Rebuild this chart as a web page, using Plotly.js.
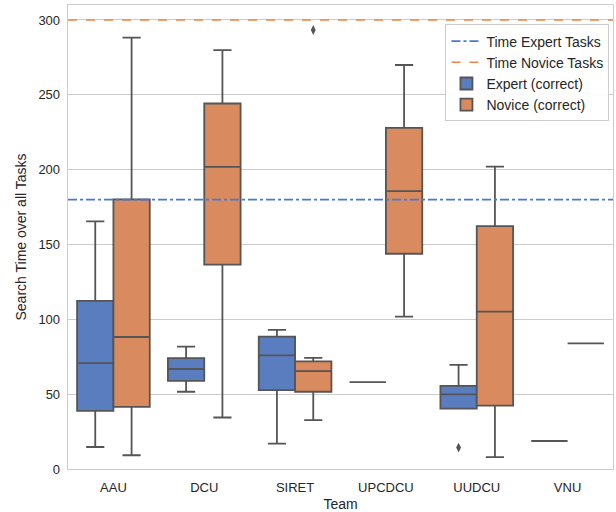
<!DOCTYPE html>
<html>
<head>
<meta charset="utf-8">
<script src="https://cdn.plot.ly/plotly-3.0.1.min.js"></script>
<style>html,body{margin:0;padding:0;background:#fff}#chart{width:616px;height:512px}</style>
</head>
<body>
<div id="chart"></div>
<script>
// Categories
const teams = ["AAU", "DCU", "SIRET", "UPCDCU", "UUDCU", "VNU"];

// Expert (correct) box statistics
const expertLower  = [14.7, 51.6, 17.0, 58.0, 40.4, 18.7];
const expertQ1     = [38.8, 58.9, 52.7, 58.0, 40.4, 18.7];
const expertMedian = [70.8, 66.8, 75.9, 58.0, 49.8, 18.7];
const expertQ3     = [112.3, 74.1, 88.4, 58.0, 55.6, 18.7];
const expertUpper  = [165.4, 81.7, 92.9, 58.0, 69.6, 18.7];

// Novice (correct) box statistics
const noviceLower  = [9.2, 34.4, 32.6, 101.8, 8.0, 83.9];
const noviceQ1     = [41.5, 136.6, 51.6, 143.8, 42.4, 83.9];
const noviceMedian = [88.2, 201.8, 65.4, 185.7, 105.1, 83.9];
const noviceQ3     = [180.1, 244.2, 71.9, 227.9, 162.3, 83.9];
const noviceUpper  = [288.2, 279.9, 74.3, 269.9, 202.0, 83.9];

// Outliers
const outlierTeam  = ["SIRET", "UUDCU"];
const outlierHue   = ["Novice", "Expert"];
const outlierValue = [293.3, 14.3];

// Reference time limits
const timeExpert = 180;
const timeNovice = 300;

const lineGray = "#555555";
const blueFill = "#597dbf", orangeFill = "#d98b5f";
const blueLine = "#4878d0", orangeLine = "#ee854a";
const hueOffset = {Expert: -0.2, Novice: 0.2};

const xSpan = [-0.5, teams.length - 0.5];

const traces = [
  {type: "scatter", mode: "lines", name: "Time Expert Tasks", xaxis: "x2", yaxis: "y",
   x: xSpan, y: [timeExpert, timeExpert],
   line: {color: blueLine, width: 1.6, dash: "dashdot"}, hoverinfo: "skip"},
  {type: "scatter", mode: "lines", name: "Time Novice Tasks", xaxis: "x2", yaxis: "y",
   x: xSpan, y: [timeNovice, timeNovice],
   line: {color: orangeLine, width: 1.6, dash: "dash"}, hoverinfo: "skip"},
  {type: "box", name: "Expert (correct)", x: teams, offsetgroup: "expert",
   q1: expertQ1, median: expertMedian, q3: expertQ3,
   lowerfence: expertLower, upperfence: expertUpper,
   fillcolor: blueFill, line: {color: lineGray, width: 1.8}, whiskerwidth: 0.5,
   boxpoints: false},
  {type: "box", name: "Novice (correct)", x: teams, offsetgroup: "novice",
   q1: noviceQ1, median: noviceMedian, q3: noviceQ3,
   lowerfence: noviceLower, upperfence: noviceUpper,
   fillcolor: orangeFill, line: {color: lineGray, width: 1.8}, whiskerwidth: 0.5,
   boxpoints: false},
  {type: "scatter", mode: "markers", xaxis: "x2", yaxis: "y", showlegend: false,
   x: outlierTeam.map((t, i) => teams.indexOf(t) + hueOffset[outlierHue[i]]),
   y: outlierValue,
   marker: {symbol: "diamond-tall", size: 7, color: lineGray, line: {width: 0}}}
];

const layout = {
  width: 616, height: 512,
  margin: {l: 68, r: 3, t: 5, b: 43},
  paper_bgcolor: "#ffffff", plot_bgcolor: "#ffffff",
  font: {family: "Liberation Sans, Arial, sans-serif", size: 13, color: "#262626"},
  boxmode: "group", boxgap: 0.2, boxgroupgap: 0,
  showlegend: true,
  xaxis: {type: "category", range: xSpan, showgrid: false, zeroline: false,
          showline: true, mirror: true, linecolor: "#cccccc", linewidth: 1.3,
          ticks: "", ticklabelstandoff: 6, tickfont: {size: 13, color: "#262626"},
          title: {text: "Team", font: {size: 14, color: "#262626"}, standoff: 6}},
  xaxis2: {overlaying: "x", range: xSpan, visible: false, showgrid: false, zeroline: false},
  yaxis: {range: [0, 310], tickvals: [0, 50, 100, 150, 200, 250, 300],
          showgrid: true, gridcolor: "#cccccc", gridwidth: 1, zeroline: false,
          showline: true, mirror: true, linecolor: "#cccccc", linewidth: 1.3,
          ticks: "", ticklabelstandoff: 4, tickfont: {size: 13, color: "#262626"},
          title: {text: "Search Time over all Tasks", font: {size: 14, color: "#262626"}, standoff: 8}},
  legend: {x: 0.9935, xanchor: "right", y: 0.958, yanchor: "top",
           bgcolor: "rgba(255,255,255,0.9)", bordercolor: "#cccccc", borderwidth: 1,
           font: {size: 14, color: "#262626"}, tracegroupgap: 0, itemwidth: 30}
};

Plotly.newPlot("chart", traces, layout, {displayModeBar: false, staticPlot: true});
</script>
</body>
</html>
